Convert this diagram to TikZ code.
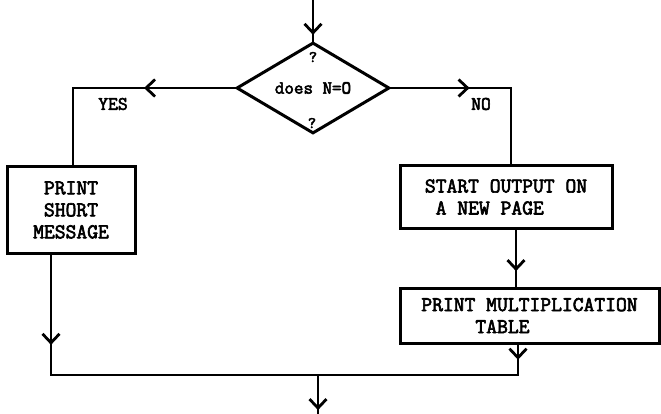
\documentclass[tikz,border=0pt]{standalone}
\usepackage{fontspec}
\newfontfamily\tw{Latin Modern Mono}[FakeBold=3]
\usetikzlibrary{arrows.meta,positioning,shapes.geometric,decorations.markings}
\tikzset{
  flow/.style={line width=2.8pt,line cap=rect},
  midtip/.style={postaction={decorate},decoration={markings,
      mark=at position #1 with {\arrow{Straight Barb[length=9pt,width=17pt,line width=2.8pt]}}}},
  box/.style={draw,line width=3pt,inner sep=0pt,align=center,
      font=\tw\bfseries\fontsize{21}{22}\selectfont},
  lab/.style={font=\tw\bfseries\fontsize{19}{20}\selectfont},
}
\begin{document}
\begin{tikzpicture}[x=1pt,y=-1pt]
  \useasboundingbox (0,0) rectangle (661,414);
  % decision
  \node[box,diamond,minimum width=153pt,minimum height=91pt,
        font=\tw\bfseries\fontsize{18.5}{18}\selectfont] (dec) at (313,88) {does N=O};
  \node[lab,font=\tw\bfseries\fontsize{16}{16}\selectfont] (q1) at (313,57) {?};
  \node[lab,font=\tw\bfseries\fontsize{16}{16}\selectfont] (q2) at (312,123) {?};
  \node[lab] (yes) at (113,104) {YES};
  \node[lab] (no) at (481,104) {NO};
  % boxes
  \node[box,minimum width=128pt,minimum height=86pt] (msg) at (71,210) {PRINT\\SHORT\\MESSAGE};
  \node[box,minimum width=212pt,minimum height=62pt,align=left] (page) at (506,197)
       {START OUTPUT ON\\\hphantom{S}A NEW PAGE};
  \node[box,minimum width=259pt,minimum height=55pt,align=left] (tab) at (529.5,315.5)
       {PRINT MULTIPLICATION\\\hphantom{PRINT}TABLE};
  % corners
  \coordinate (ycor) at (73,0);
  \coordinate (ncor) at (511,0);
  \coordinate (mid) at (516,0);
  \coordinate (jl) at (51,375);
  \coordinate (jr) at (518,375);
  \coordinate (jm) at (318,375);
  \coordinate (bot) at (318,414);
  % connectors
  \draw[flow,midtip=.85] (dec.north |- 0,0) -- (dec.north);
  \draw[flow,midtip=.38] (dec.west) -| (ycor |- msg.north);
  \draw[flow,midtip=.40] (dec.east) -| (ncor |- page.north);
  \draw[flow,midtip=.73] (page.south -| mid) -- (tab.north -| mid);
  \draw[flow,midtip=.75] (msg.south -| jl) -- (jl);
  \draw[flow,midtip=.5] (tab.south -| jr) -- (jr);
  \draw[flow] (jl) -- (jr);
  \draw[flow,midtip=.9] (jm) -- (bot);
\end{tikzpicture}
\end{document}
